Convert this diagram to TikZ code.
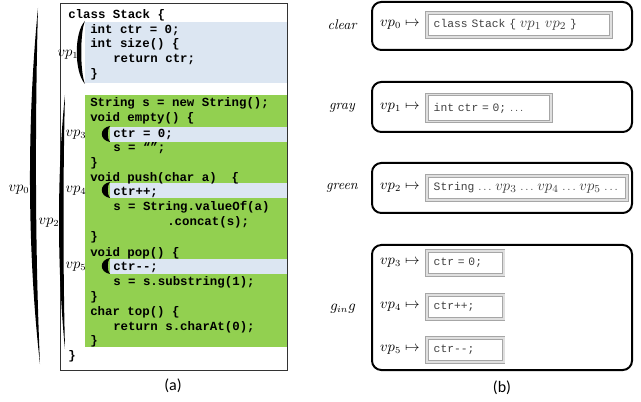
\documentclass[tikz,border=0pt]{standalone}
\usepackage{fontspec}
\setmonofont{Liberation Mono}
\newfontfamily\capfont{Carlito}
\usetikzlibrary{positioning}
\definecolor{vpBlue}{HTML}{DCE6F2}
\definecolor{vpGreen}{HTML}{92D050}
\definecolor{vpFrame}{HTML}{A6A6A6}

\begin{document}
\begin{tikzpicture}[
  x=0.75pt, y=-0.75pt,
  code/.style={anchor=west, inner sep=0pt, text height=6.5pt, text depth=1.8pt, font=\ttfamily\bfseries\fontsize{9.3}{11}\selectfont},
  vplbl/.style={inner sep=0pt, font=\fontsize{10.5}{12}\selectfont},
  tag/.style={inner sep=0pt, font=\itshape\fontsize{10.5}{12}\selectfont},
  panel/.style={draw, line width=1.5pt, rounded corners=7pt, minimum width=195pt},
  frame/.style={draw=vpFrame, line width=0.6pt, double=gray!25, double distance=1.2pt, minimum height=18pt, inner xsep=5pt, inner ysep=2pt, align=left, font=\ttfamily\fontsize{8.5}{10}\selectfont, text=black!75},
  subcap/.style={font=\capfont\fontsize{12}{14}\selectfont}
]
  \useasboundingbox (0,0) rectangle (641,402);

  % (a) the Stack source
  \fill[vpBlue] (85,22) rectangle (287,83);
  \fill[vpGreen] (85,95) rectangle (287,347);
  \draw[black!80, line width=0.6pt] (60,3) rectangle (287,370);

  \foreach \y/\i in {126/3,182/4,258/5}{
    \fill[vpBlue] (110,\y+1) rectangle (287,\y+16);
    \fill (110,\y) .. controls (99,\y+2) and (99,\y+14) .. (110,\y+16) .. controls (107,\y+13) and (107,\y+3) .. cycle;
    \node[vplbl] (vp\i) at (76,\y+9) {$vp_{\i}$};
  }

  \node[code] (cls) at (68,15) {class Stack \{};
  \node[code] (ctr) at (90,30) {int ctr = 0;};
  \node[code] (size) at (90,44) {int size() \{};
  \node[code] (sizeret) at (113,59) {return ctr;};
  \node[code] (sizeend) at (90,74) {\}};
  \node[code] (sdecl) at (90,103) {String s = new String();};
  \node[code] (empty) at (90,118) {void empty() \{};
  \node[code] (emptyctr) at (113,134) {ctr = 0;};
  \node[code] (emptys) at (113,148) {s = “”;};
  \node[code] (emptyend) at (90,163) {\}};
  \node[code] (push) at (90,178) {void push(char a)~~\{};
  \node[code] (pushctr) at (113,192) {ctr++;};
  \node[code] (pushs) at (113,207) {s = String.valueOf(a)};
  \node[code] (pushcat) at (167,222) {.concat(s);};
  \node[code] (pushend) at (90,237) {\}};
  \node[code] (pop) at (90,253) {void pop() \{};
  \node[code] (popctr) at (113,267) {ctr-{}-;};
  \node[code] (pops) at (113,282) {s = s.substring(1);};
  \node[code] (popend) at (90,297) {\}};
  \node[code] (top) at (90,312) {char top() \{};
  \node[code] (topret) at (113,327) {return s.charAt(0);};
  \node[code] (topend) at (90,341) {\}};
  \node[code] (clsend) at (68,356) {\}};

  % brackets for the variation points
  \fill (38,8) .. controls (27,120) and (27,250) .. (40,364) .. controls (35,250) and (35,120) .. cycle;
  \fill (65,95) .. controls (57,170) and (57,270) .. (65,349) .. controls (63,270) and (63,170) .. cycle;
  \fill (85,21) .. controls (74,32) and (74,72) .. (85,84) .. controls (80,72) and (80,32) .. cycle;
  \node[vplbl] (vp0) at (19,190) {$vp_0$};
  \node[vplbl] (vp1) at (68,55) {$vp_1$};
  \node[vplbl] (vp2) at (49,223) {$vp_2$};

  \node[subcap] (capa) at (173,386) {(a)};

  % (b) the mappings
  \node[panel, minimum height=36pt] (clearbox) at (502,26) {};
  \node[panel, minimum height=37.5pt] (graybox) at (502,107) {};
  \node[panel, minimum height=37.5pt] (greenbox) at (502,188) {};
  \node[panel, minimum height=93.75pt] (gingbox) at (502,307.5) {};

  \node[tag] (clear) at (342,25) {clear};
  \node[tag] (gray) at (342,108) {gray};
  \node[tag] (green) at (342,188) {green};
  \node[vplbl] (ging) at (343,309) {$g_{in}g$};

  \node[vplbl, anchor=east] (m0) at (420,25) {$vp_0\mapsto$};
  \node[frame, text width=128pt, right=5pt of m0] (f0) {class Stack \{ {\fontsize{11}{12}\selectfont$vp_1$ $vp_2$} \}};
  \node[vplbl, anchor=east] (m1) at (420,108) {$vp_1\mapsto$};
  \node[frame, text width=83pt, minimum height=20pt, right=5pt of m1] (f1) {int ctr = 0; $\ldots$};
  \node[vplbl, anchor=east] (m2) at (420,188) {$vp_2\mapsto$};
  \node[frame, text width=140pt, right=5pt of m2] (f2) {String $\ldots$ {\fontsize{11}{12}\selectfont$vp_3$} $\ldots$ {\fontsize{11}{12}\selectfont$vp_4$} $\ldots$ {\fontsize{11}{12}\selectfont$vp_5$} $\ldots$};
  \node[vplbl, anchor=east] (m3) at (420,263) {$vp_3\mapsto$};
  \node[frame, text width=47.5pt, right=5pt of m3] (f3) {ctr = 0;};
  \node[vplbl, anchor=east] (m4) at (420,307) {$vp_4\mapsto$};
  \node[frame, text width=47.5pt, right=5pt of m4] (f4) {ctr++;};
  \node[vplbl, anchor=east] (m5) at (420,350) {$vp_5\mapsto$};
  \node[frame, text width=47.5pt, right=5pt of m5] (f5) {ctr-{}-;};

  \node[subcap] (capb) at (502,388) {(b)};
\end{tikzpicture}
\end{document}
